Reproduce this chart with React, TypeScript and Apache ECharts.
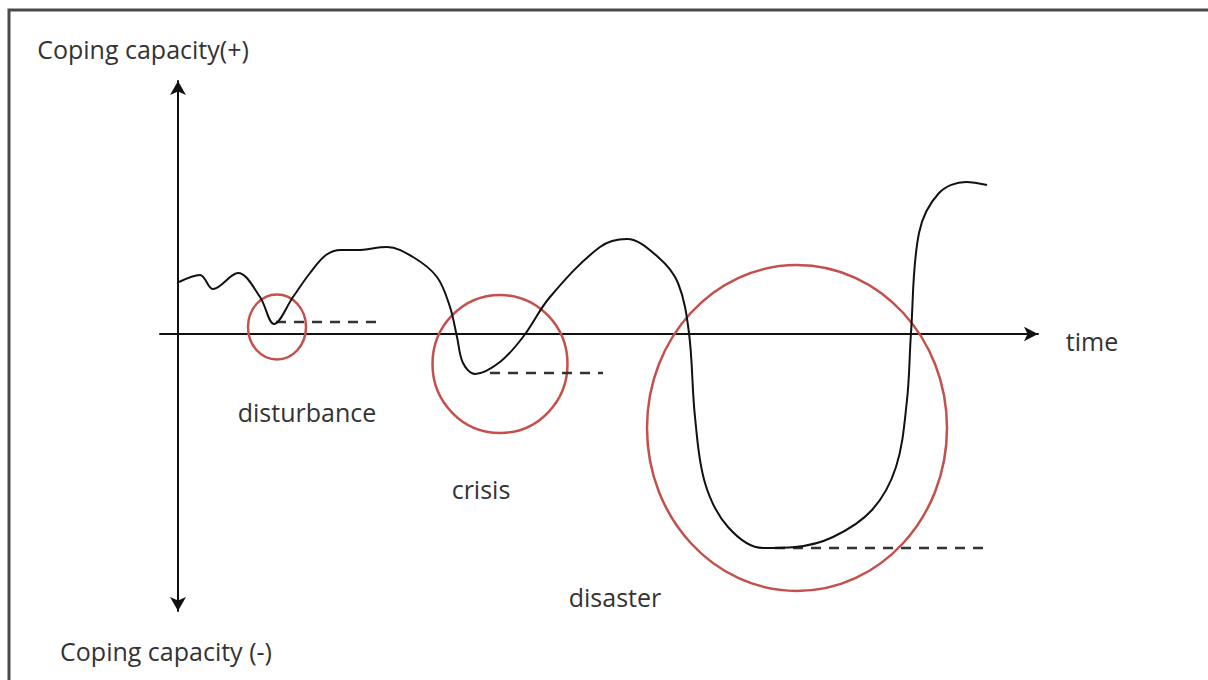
import React, { useEffect, useRef } from "react";
import * as echarts from "echarts";

// Coping capacity over time (arbitrary units; 0 = the time axis)
const curveTime = [
  0.1, 2.2, 3.5, 6.0, 8.2, 9.6, 11.5, 13.2, 14.8, 16.3, 17.9, 20.9, 23.5, 25.9,
  27.2, 27.9, 28.5, 29.7, 32.2, 34.5, 37.2, 42.2, 44.9, 48.0, 50.0, 51.1, 51.7,
  52.7, 55.0, 58.5, 61.7, 65.5, 69.4, 71.8, 72.9, 73.3, 74.1, 76.1, 78.8, 80.9,
];
const curveCapacity = [
  5.2, 5.9, 4.5, 6.1, 3.7, 1.0, 3.7, 6.1, 7.9, 8.4, 8.4, 8.7, 7.7, 5.7, 2.7,
  -0.3, -2.9, -4.0, -2.8, -0.3, 3.7, 8.7, 9.5, 7.7, 5.1, 0.1, -8.3, -14.9,
  -19.3, -21.4, -21.3, -20.3, -17.6, -13.3, -6.6, 0.1, 10.1, 14.1, 15.2, 14.9,
];

// Events: name, circle centre (time, capacity), circle radii (time, capacity)
const eventNames = ["disturbance", "crisis", "disaster"];
const eventCenterTime = [9.9, 32.2, 61.9];
const eventCenterCapacity = [0.7, -3.0, -9.4];
const eventRadiusTime = [2.9, 6.75, 15.0];
const eventRadiusCapacity = [3.25, 6.9, 16.3];

// Recovery baselines (dashed): start time, end time, level
const baselineStart = [9.8, 31.2, 59.7];
const baselineEnd = [20.0, 42.5, 81.1];
const baselineLevel = [1.2, -3.9, -21.4];

// Event label anchors (time, capacity)
const labelTime = [12.9, 30.3, 43.7];
const labelCapacity = [-7.8, -15.5, -26.3];

// Axis extents
const timeMin = -1.8;
const timeMax = 86;
const capacityMin = -27.7;
const capacityMax = 25.3;

const FONT = "'Open Sans', 'Noto Sans', sans-serif";
const TEXT_COLOR = "#333";
const RED = "#c4504c";

export default function App() {
  const ref = useRef<HTMLDivElement>(null);

  useEffect(() => {
    if (!ref.current) return;
    const chart = echarts.init(ref.current, undefined, { renderer: "svg" });

    const curve = curveTime.map((t, i) => [t, curveCapacity[i]]);
    const circles = eventNames.map((_, i) => [
      eventCenterTime[i],
      eventCenterCapacity[i],
      eventRadiusTime[i],
      eventRadiusCapacity[i],
    ]);
    const baselineSeries = baselineLevel.map((lvl, i) => ({
      type: "line",
      data: [
        [baselineStart[i], lvl],
        [baselineEnd[i], lvl],
      ],
      showSymbol: false,
      silent: true,
      z: 3,
      lineStyle: { color: "#333", width: 2.5, type: [10, 8] },
    }));
    const labels = eventNames.map((name, i) => ({
      name,
      value: [labelTime[i], labelCapacity[i]],
    }));

    const axisLineStyle = { color: "#111", width: 2 };

    chart.setOption({
      animation: false,
      backgroundColor: "#fff",
      grid: { left: 160, right: 170, top: 81, bottom: 69 },
      xAxis: {
        type: "value",
        min: timeMin,
        max: timeMax,
        axisLine: {
          show: true,
          onZero: true,
          symbol: ["none", "arrow"],
          symbolSize: [11, 14],
          lineStyle: axisLineStyle,
        },
        axisTick: { show: false },
        axisLabel: { show: false },
        splitLine: { show: false },
      },
      yAxis: {
        type: "value",
        min: capacityMin,
        max: capacityMax,
        axisLine: {
          show: true,
          onZero: true,
          symbol: ["arrow", "arrow"],
          symbolSize: [12, 14],
          lineStyle: axisLineStyle,
        },
        axisTick: { show: false },
        axisLabel: { show: false },
        splitLine: { show: false },
      },
      graphic: [
        {
          type: "polyline",
          silent: true,
          shape: { points: [[9, 680], [9, 10], [1208, 10]] },
          style: { stroke: "#4a4a4a", lineWidth: 3, fill: "none" },
        },
        {
          type: "text",
          x: 143,
          y: 49,
          style: {
            text: "Coping capacity(+)",
            font: `25px ${FONT}`,
            fill: TEXT_COLOR,
            align: "center",
            verticalAlign: "middle",
          },
        },
        {
          type: "text",
          x: 166,
          y: 651,
          style: {
            text: "Coping capacity (-)",
            font: `25px ${FONT}`,
            fill: TEXT_COLOR,
            align: "center",
            verticalAlign: "middle",
          },
        },
        {
          type: "text",
          x: 1092,
          y: 341,
          style: {
            text: "time",
            font: `25px ${FONT}`,
            fill: TEXT_COLOR,
            align: "center",
            verticalAlign: "middle",
          },
        },
      ],
      series: [
        {
          type: "custom",
          silent: true,
          z: 1,
          data: circles,
          renderItem: (_params: any, api: any) => {
            const c = api.coord([api.value(0), api.value(1)]);
            const s = api.size([api.value(2), api.value(3)]);
            return {
              type: "ellipse",
              shape: { cx: c[0], cy: c[1], rx: s[0], ry: s[1] },
              style: { fill: "none", stroke: RED, lineWidth: 2.5 },
            };
          },
        },
        ...baselineSeries,
        {
          type: "line",
          data: curve,
          smooth: 0.35,
          showSymbol: false,
          silent: true,
          z: 4,
          lineStyle: { color: "#111", width: 2 },
        },
        {
          type: "scatter",
          data: labels,
          symbolSize: 0,
          silent: true,
          itemStyle: { opacity: 1 },
          label: {
            show: true,
            position: "inside",
            formatter: "{b}",
            fontFamily: FONT,
            fontSize: 25,
            color: TEXT_COLOR,
          },
        },
      ],
    });

    return () => chart.dispose();
  }, []);

  return (
    <div
      ref={ref}
      style={{ position: "fixed", left: 0, top: 0, width: 1208, height: 680 }}
    />
  );
}
